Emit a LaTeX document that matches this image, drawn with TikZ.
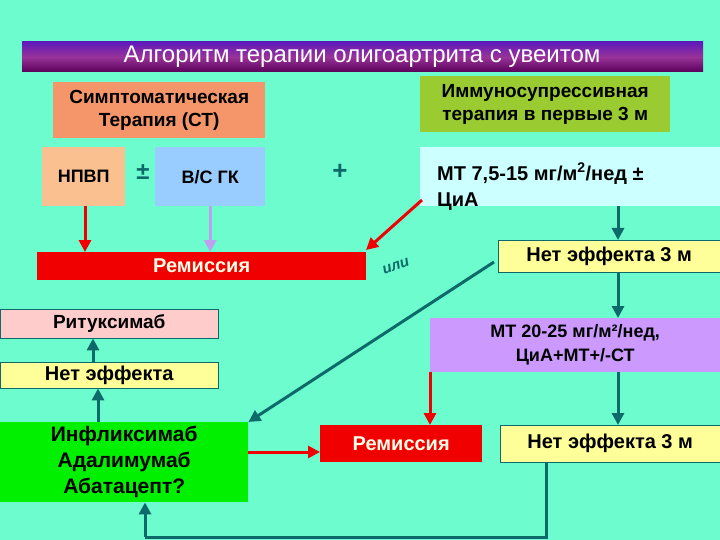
\documentclass[tikz,border=0pt]{standalone}
\usepackage{fontspec}
\setmainfont{Liberation Sans}
\usetikzlibrary{arrows.meta}
\definecolor{bg}{HTML}{6CFCCE}
\definecolor{teal2}{HTML}{0E6A6A}
\definecolor{redc}{HTML}{F00000}
\newcommand\fs[1]{\fontsize{#1}{#1}\selectfont}
\tikzset{
 box/.style={anchor=north west,inner sep=0pt,font=\bfseries\fs{18}},
 mbox/.style={box,align=center},
 tarr/.style={draw=teal2,line width=3pt,-{Triangle[length=12pt,width=12pt]}},
 rarr/.style={draw=redc,line width=3pt,-{Triangle[length=12pt,width=12pt]}},
}
\begin{document}
\begin{tikzpicture}[x=1pt,y=-1pt]
\fill[bg] (0,0) rectangle (720,540);
\useasboundingbox (0,0) rectangle (720,540);
\shade[top color=violet!60!blue!90,bottom color=violet!70!black,middle color=violet!80] (22,42) rectangle (703,72);
\node[font=\fs{24},text=white] (title) at (362,57) {Алгоритм терапии олигоартрита с увеитом};
\node[mbox,fill={rgb,255:red,244;green,150;blue,106},minimum width=212pt,minimum height=56pt,font=\bfseries\fontsize{19}{23}\selectfont] (st) at (53,82) {Симптоматическая\\Терапия (СТ)};
\node[mbox,fill={rgb,255:red,154;green,204;blue,50},minimum width=250pt,minimum height=56pt,font=\bfseries\fontsize{19}{23}\selectfont] (imm) at (420,76) {Иммуносупрессивная\\терапия в первые 3 м};
\node[box,fill={rgb,255:red,250;green,192;blue,144},minimum width=83pt,minimum height=59pt] (npvp) at (42,147) {НПВП};
\node[font=\bfseries\fs{24},text=teal2] (pm) at (143,172) {±};
\node[box,fill={rgb,255:red,153;green,204;blue,255},minimum width=110pt,minimum height=59pt] (vs) at (155,147) {В/С ГК};
\node[font=\bfseries\fs{26},text=teal2] (plus) at (340,172) {+};
\node[box,fill={rgb,255:red,204;green,255;blue,255},minimum width=300pt,minimum height=59pt] (mt) at (420,147) {};
\node[anchor=north west,font=\bfseries\fontsize{20}{26}\selectfont,align=left,inner sep=0pt] (mtt) at (437,163) {МТ 7,5-15 мг/м\textsuperscript{2}/нед ±\\ЦиА};
\node[box,fill=redc,text=white!90!yellow,minimum width=329pt,minimum height=28pt,font=\bfseries\fs{20}] (rem1) at (37,252) {Ремиссия};
\node[font=\bfseries\itshape\fs{15},text=teal2,rotate=20] (ili) at (396,266) {или};
\node[box,fill={rgb,255:red,255;green,255;blue,153},draw=teal2,minimum width=222pt,minimum height=32pt,font=\bfseries\fs{20}] (ne1) at (498,240) {Нет эффекта 3 м};
\node[box,fill={rgb,255:red,255;green,204;blue,204},draw=teal2,minimum width=218pt,minimum height=29pt,font=\bfseries\fs{19}] (rit) at (0,309) {Ритуксимаб};
\node[box,fill={rgb,255:red,255;green,255;blue,153},draw=teal2,minimum width=218pt,minimum height=26pt,font=\bfseries\fs{20}] (ne2) at (0,362) {Нет эффекта};
\node[mbox,fill={rgb,255:red,0;green,240;blue,0},minimum width=248pt,minimum height=80pt,font=\bfseries\fontsize{21}{26}\selectfont] (inf) at (0,422) {Инфликсимаб\\Адалимумаб\\Абатацепт?};
\node[mbox,fill={rgb,255:red,204;green,153;blue,255},minimum width=290pt,minimum height=54pt,font=\bfseries\fontsize{18}{24}\selectfont] (mt2) at (430,318) {МТ 20-25 мг/м²/нед,\\ЦиА+МТ+/-СТ};
\node[box,fill=redc,text=white!90!yellow,minimum width=162pt,minimum height=37pt,font=\bfseries\fs{20}] (rem2) at (320,425) {Ремиссия};
\node[box,fill={rgb,255:red,255;green,255;blue,153},draw=teal2,minimum width=220pt,minimum height=37pt,font=\bfseries\fs{20}] (ne3) at (500,425) {Нет эффекта 3 м};
\coordinate (c1) at (546,537);
\coordinate (c2) at (145,537);
\draw[rarr] (npvp.south -| 85,0) -- (rem1.north -| 85,0);
\draw[draw={rgb,255:red,190;green,160;blue,240},line width=3pt,-{Triangle[length=12pt,width=12pt]}] (vs.south) -- (rem1.north -| vs.south);
\draw[rarr] (422,200) -- (366,250);
\draw[tarr] (mt.south -| 618,0) -- (ne1.north -| 618,0);
\draw[tarr] (ne1.south -| 618,0) -- (mt2.north -| 618,0);
\draw[tarr] (494,262) -- (inf.north east);
\draw[tarr] (mt2.south -| 618,0) -- (ne3.north -| 618,0);
\draw[rarr] (mt2.south west) -- (rem2.north -| mt2.south west);
\draw[rarr] (inf.east |- 0,452) -- (rem2.west |- 0,452);
\draw[draw=teal2,line width=3pt] (ne3.south -| c1) -- (c1) -- (c2);
\draw[tarr] (c2) -- (inf.south -| c2);
\draw[tarr] (inf.north -| 98,0) -- (ne2.south -| 98,0);
\draw[tarr] (ne2.north -| 93,0) -- (rit.south -| 93,0);
\end{tikzpicture}
\end{document}
